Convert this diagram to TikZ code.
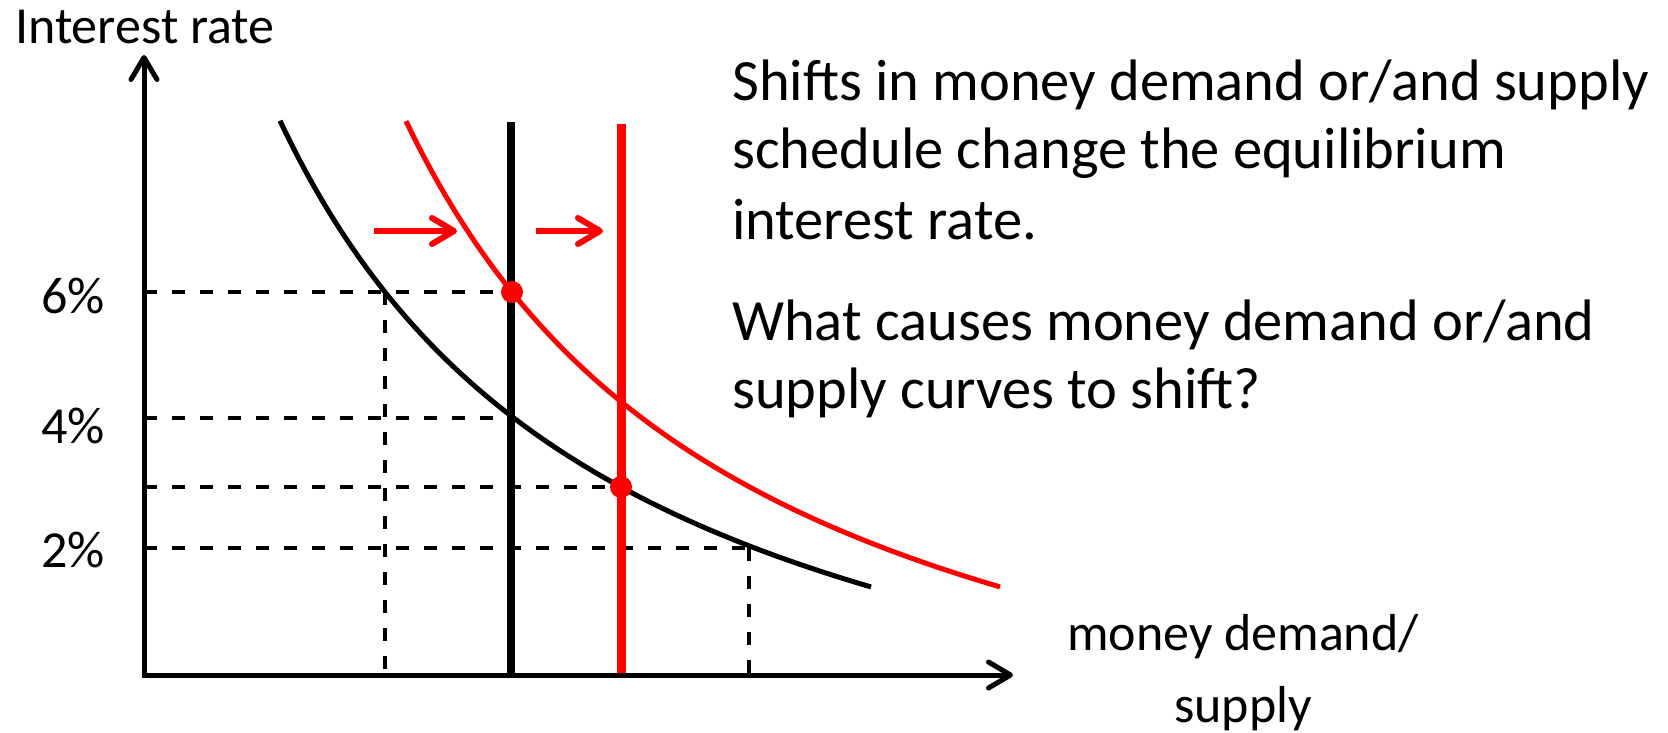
\documentclass[tikz,border=0pt]{standalone}
\usepackage{fontspec}
\setmainfont{Carlito}
\usetikzlibrary{arrows.meta}
\definecolor{pptred}{RGB}{255,0,0}
\begin{document}
\begin{tikzpicture}[x=1pt,y=-1pt,
  barb/.tip={Straight Barb[length=22pt,width=26pt,line cap=round,line join=round]},
  axisline/.style={line width=5pt,line join=miter},
  guide/.style={line width=4pt,dash pattern=on 13pt off 15pt},
  curveblack/.style={line width=5pt,black},
  curvered/.style={line width=5pt,pptred},
  supplyblack/.style={line width=8pt,black},
  supplyred/.style={line width=9pt,pptred},
  shiftarrow/.style={line width=6pt,pptred,-barb},
  eqdot/.style={fill=pptred},
  lbl/.style={inner sep=0pt,anchor=base west,font=\fontsize{52}{62}\selectfont},
  body/.style={inner sep=0pt,anchor=base west,font=\fontsize{58.5}{70}\selectfont}]
\useasboundingbox (0,0) rectangle (1668,732);
\fill[white] (0,0) rectangle (1668,732);

% axes
\coordinate (O) at (144,675);
\coordinate (ytop) at (144,55);
\coordinate (xend) at (1013,675);

% guide points
\coordinate (g6) at (144,292);
\coordinate (g4) at (144,418);
\coordinate (g3) at (144,487);
\coordinate (g2) at (144,548);
\coordinate (e6) at (512,292);
\coordinate (e4) at (511,418);
\coordinate (e3) at (621,487);
\coordinate (e2) at (749,548);
\coordinate (v1t) at (385,292);
\coordinate (v1b) at (385,675);
\coordinate (v2b) at (749,675);

\draw[guide] (g6) -- (e6);
\draw[guide] (g4) -- (e4);
\draw[guide] (g3) -- (e3);
\draw[guide] (g2) -- (e2);
\draw[guide] (v1t) -- (v1b);
\draw[guide] (e2) -- (v2b);

% demand curves
\draw[curveblack] plot[domain=280:871,samples=90,smooth,variable=\t] ({\t},{863-2597.95/(\t/100+0.7)});
\draw[curvered] plot[domain=406:1000,samples=90,smooth,variable=\t] ({\t},{866-2651.76/(\t/100-0.5)});

% supply lines
\coordinate (sbt) at (511,122);
\coordinate (sbb) at (511,675);
\coordinate (srt) at (621,124);
\coordinate (srb) at (621,677);
\draw[supplyblack] (sbt) -- (sbb);
\draw[supplyred] (srt) -- (srb);

% axes on top
\draw[axisline,barb-barb] (ytop) -- (O) -- (xend);

% shift arrows
\coordinate (a1s) at (374,231);
\coordinate (a1e) at (457,231);
\coordinate (a2s) at (536,231);
\coordinate (a2e) at (603,231);
\draw[shiftarrow] (a1s) -- (a1e);
\draw[shiftarrow] (a2s) -- (a2e);

% equilibrium dots
\fill[eqdot] (e6) circle (11pt);
\fill[eqdot] (e3) circle (11pt);

% labels
\node[lbl] (ylabel) at (15,43) {Interest rate};
\node[lbl] (p6) at (41,313) {6\%};
\node[lbl] (p4) at (41,443) {4\%};
\node[lbl] (p2) at (41,567) {2\%};
\node[lbl] (xlabel1) at (1067,650) {money demand/};
\node[lbl,anchor=base] (xlabel2) at (1243,722) {supply};

\node[body] (t1) at (732,100) {Shifts in money demand or/and supply};
\node[body] (t2) at (732,168) {schedule change the equilibrium};
\node[body] (t3) at (732,239) {interest rate.};
\node[body] (t4) at (732,340) {What causes money demand or/and};
\node[body] (t5) at (732,408) {supply curves to shift?};
\end{tikzpicture}
\end{document}
